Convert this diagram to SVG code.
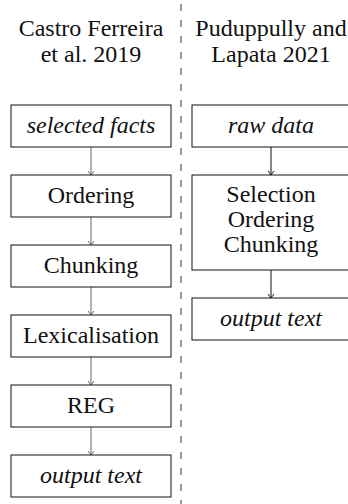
<svg xmlns="http://www.w3.org/2000/svg" width="348" height="504" viewBox="0 0 348 504">
<style>
.t{font-size:24px;fill:#111;text-anchor:middle}
.it{font-style:italic}
rect{fill:#fff;stroke:#111;stroke-width:1}
.cl{stroke:#666;stroke-width:1;fill:none}
.cr{stroke:#111;stroke-width:1;fill:none}
.div{stroke:#333;stroke-width:1;stroke-dasharray:7 9;stroke-dashoffset:-4}
</style>
<rect x="0" y="0" width="348" height="504" style="fill:#fff;stroke:none"/>
<line class="div" x1="181" y1="0" x2="181" y2="504"/>
<g font-family="Liberation Serif, Times New Roman, serif">
<g id="header-left"><text class="t" x="91" y="36">Castro Ferreira</text><text class="t" x="91" y="62">et al. 2019</text></g>
<g id="header-right"><text class="t" x="271" y="36">Puduppully and</text><text class="t" x="271" y="62">Lapata 2021</text></g>
<g id="connectors">
<path class="cl" d="M91 147V175M88 171L91 175L94 171"/>
<path class="cl" d="M91 217V245M88 241L91 245L94 241"/>
<path class="cl" d="M91 287V315M88 311L91 315L94 311"/>
<path class="cl" d="M91 357V385M88 381L91 385L94 381"/>
<path class="cl" d="M91 427V455M88 451L91 455L94 451"/>
<path class="cr" d="M271 147V175M268 171L271 175L274 171"/>
<path class="cr" d="M271 270V298M268 294L271 298L274 294"/>
</g>
<g id="selected-facts"><rect x="11" y="105" width="160" height="42"/><text class="t it" x="91" y="133">selected facts</text></g>
<g id="ordering"><rect x="11" y="175" width="160" height="42"/><text class="t" x="91" y="203">Ordering</text></g>
<g id="chunking"><rect x="11" y="245" width="160" height="42"/><text class="t" x="91" y="273">Chunking</text></g>
<g id="lexicalisation"><rect x="11" y="315" width="160" height="42"/><text class="t" x="91" y="343">Lexicalisation</text></g>
<g id="reg"><rect x="11" y="385" width="160" height="42"/><text class="t" x="91" y="413">REG</text></g>
<g id="output-left"><rect x="11" y="455" width="160" height="42"/><text class="t it" x="91" y="483">output text</text></g>
<g id="raw-data"><rect x="192" y="105" width="160" height="42"/><text class="t it" x="271" y="133">raw data</text></g>
<g id="sel-ord-chunk"><rect x="192" y="175" width="160" height="95"/><text class="t" x="271" y="202">Selection</text><text class="t" x="271" y="227">Ordering</text><text class="t" x="271" y="252">Chunking</text></g>
<g id="output-right"><rect x="192" y="298" width="160" height="42"/><text class="t it" x="271" y="326">output text</text></g>
</g>
</svg>
